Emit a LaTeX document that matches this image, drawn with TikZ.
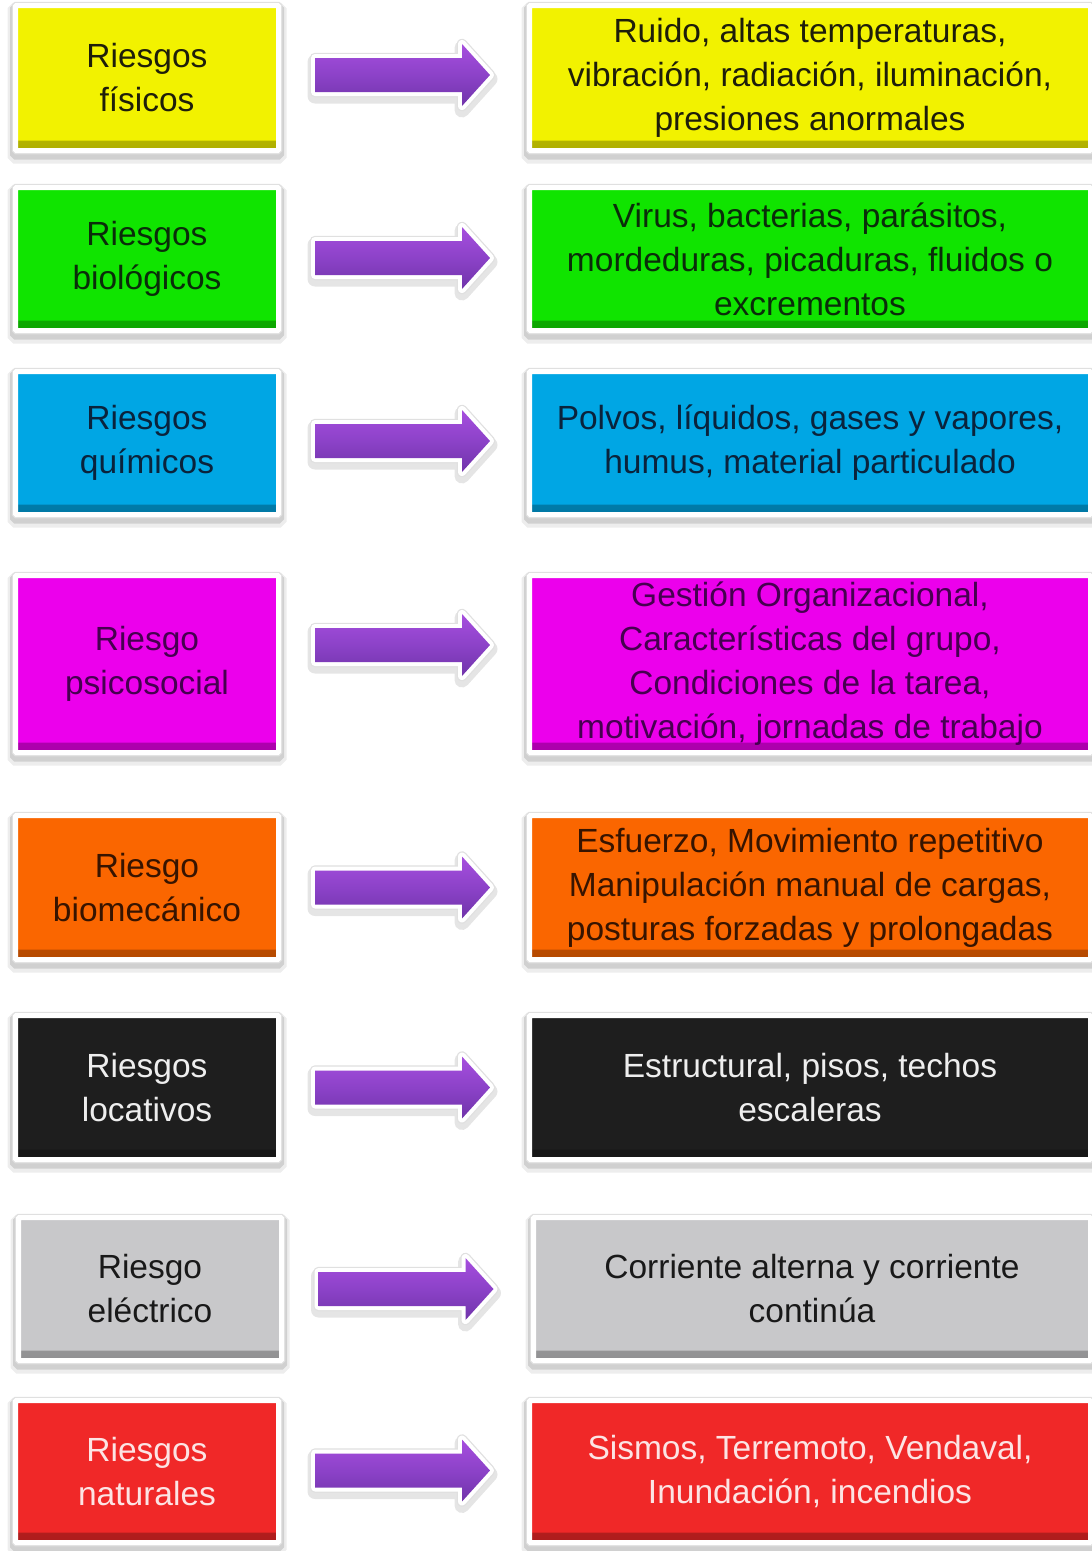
\documentclass[tikz,border=0pt]{standalone}
\usepackage{fontspec}
\setmainfont{Liberation Sans}
\usetikzlibrary{calc}
\definecolor{cYel}{RGB}{242,242,0}
\definecolor{cGrn}{RGB}{16,228,0}
\definecolor{cBlu}{RGB}{0,166,228}
\definecolor{cMag}{RGB}{236,0,236}
\definecolor{cOra}{RGB}{250,102,0}
\definecolor{cBlk}{RGB}{30,30,30}
\definecolor{cGry}{RGB}{200,200,202}
\definecolor{cRed}{RGB}{240,40,40}
\definecolor{tYel}{RGB}{30,30,10}
\definecolor{tGrn}{RGB}{10,45,10}
\definecolor{tBlu}{RGB}{10,35,60}
\definecolor{tMag}{RGB}{70,0,80}
\definecolor{tOra}{RGB}{55,20,0}
\definecolor{tBlk}{RGB}{238,238,238}
\definecolor{tGry}{RGB}{25,25,25}
\definecolor{tRed}{RGB}{252,228,228}
\definecolor{aTop}{RGB}{166,78,222}
\definecolor{aMid}{RGB}{140,66,200}
\definecolor{aBot}{RGB}{112,52,170}
\newcommand\boxfont{\fontsize{33.5}{44}\selectfont}
\tikzset{
  riskbox/.style 2 args={fill=#1, text=#2, draw=white, line width=5pt,
    rounded corners=1pt, align=center, inner sep=0pt, font=\boxfont,
    preaction={draw=black, draw opacity=.07, line width=16pt, transform canvas={yshift=-5pt}},
    preaction={draw=black, draw opacity=.12, line width=11pt, transform canvas={yshift=-3.5pt}},
    preaction={draw=black!12, line width=7.5pt},
    path picture={\shade[top color=#1, bottom color=#1!72!black]
      ([yshift=2.5pt]path picture bounding box.south west) rectangle
      ([yshift=10pt]path picture bounding box.south east);}},
  leftbox/.style={minimum width=263pt},
  rightbox/.style={minimum width=561pt},
  parrow/.pic={
    \draw[black, draw opacity=.10, line width=15pt, line join=round, transform canvas={yshift=-4pt}]
      (-87.5,-17) -- (59.5,-17) -- (59.5,-31) -- (87.5,0) -- (59.5,31)
      -- (59.5,17) -- (-87.5,17) -- cycle;
    \draw[black!12, line width=10.5pt, line join=round]
      (-87.5,-17) -- (59.5,-17) -- (59.5,-31) -- (87.5,0) -- (59.5,31)
      -- (59.5,17) -- (-87.5,17) -- cycle;
    \draw[white, line width=8pt, line join=round, fill=white]
      (-87.5,-17) -- (59.5,-17) -- (59.5,-31) -- (87.5,0) -- (59.5,31)
      -- (59.5,17) -- (-87.5,17) -- cycle;
    \shade[top color=aTop, bottom color=aBot, middle color=aMid]
      (-87.5,-17) -- (59.5,-17) -- (59.5,-31) -- (87.5,0) -- (59.5,31)
      -- (59.5,17) -- (-87.5,17) -- cycle;
  }
}
\begin{document}
\begin{tikzpicture}[x=1pt, y=-1pt]
\path[fill=white, use as bounding box] (0,0) rectangle (1092,1551);

% row 1
\node[riskbox={cYel}{tYel}, leftbox, minimum height=145pt] (L1) at (147,78) {Riesgos\\físicos};
\node[riskbox={cYel}{tYel}, rightbox, minimum height=145pt] (R1) at (810,78)
  {Ruido, altas temperaturas,\\vibración, radiación, iluminación,\\presiones anormales};
% row 2
\node[riskbox={cGrn}{tGrn}, leftbox, minimum height=143pt] (L2) at (147,259) {Riesgos\\biológicos};
\node[riskbox={cGrn}{tGrn}, rightbox, minimum height=143pt] (R2) at (810,259)
  {Virus, bacterias, parásitos,\\mordeduras, picaduras, fluidos o\\excrementos};
% row 3
\node[riskbox={cBlu}{tBlu}, leftbox, minimum height=143pt] (L3) at (147,443) {Riesgos\\químicos};
\node[riskbox={cBlu}{tBlu}, rightbox, minimum height=143pt] (R3) at (810,443)
  {Polvos, líquidos, gases y vapores,\\humus, material particulado};
% row 4
\node[riskbox={cMag}{tMag}, leftbox, minimum height=177pt] (L4) at (147,664) {Riesgo\\psicosocial};
\node[riskbox={cMag}{tMag}, rightbox, minimum height=177pt] (R4) at (810,664)
  {Gestión Organizacional,\\Características del grupo,\\Condiciones de la tarea,\\motivación, jornadas de trabajo};
% row 5
\node[riskbox={cOra}{tOra}, leftbox, minimum height=144pt] (L5) at (147,887.5) {Riesgo\\biomecánico};
\node[riskbox={cOra}{tOra}, rightbox, minimum height=144pt] (R5) at (810,887.5)
  {Esfuerzo, Movimiento repetitivo\\Manipulación manual de cargas,\\posturas forzadas y prolongadas};
% row 6
\node[riskbox={cBlk}{tBlk}, leftbox, minimum height=144pt] (L6) at (147,1087.5) {Riesgos\\locativos};
\node[riskbox={cBlk}{tBlk}, rightbox, minimum height=144pt] (R6) at (810,1087.5)
  {Estructural, pisos, techos\\escaleras};
% row 7
\node[riskbox={cGry}{tGry}, leftbox, minimum height=143pt] (L7) at (150,1289) {Riesgo\\eléctrico};
\node[riskbox={cGry}{tGry}, minimum width=557pt, minimum height=143pt] (R7) at (812,1289)
  {Corriente alterna y corriente\\continúa};
% row 8
\node[riskbox={cRed}{tRed}, leftbox, minimum height=142pt] (L8) at (147,1471.5) {Riesgos\\naturales};
\node[riskbox={cRed}{tRed}, rightbox, minimum height=142pt] (R8) at (810,1471.5)
  {Sismos, Terremoto, Vendaval,\\Inundación, incendios};

% arrows between the boxes
\path (L1.east) -- coordinate[pos=.5] (m1) (R1.west);
\path (L2.east) -- coordinate[pos=.5] (m2) (R2.west);
\path (L3.east) -- coordinate[pos=.5] (m3) (R3.west);
\path (L4.east) -- coordinate[pos=.5] (m4) (R4.west);
\path (L5.east) -- coordinate[pos=.5] (m5) (R5.west);
\path (L6.east) -- coordinate[pos=.5] (m6) (R6.west);
\path (L7.east) -- coordinate[pos=.5] (m7) (R7.west);
\path (L8.east) -- coordinate[pos=.5] (m8) (R8.west);
\pic at ($(m1)+(-1.5,-3)$) {parrow};
\pic at ($(m2)+(-1.5,-1)$) {parrow};
\pic at ($(m3)+(-1.5,-2)$) {parrow};
\pic at ($(m4)+(-1.5,-19)$) {parrow};
\pic at ($(m5)+(-1.5,0)$) {parrow};
\pic at ($(m6)+(-1.5,0)$) {parrow};
\pic at ($(m7)+(-1.5,0)$) {parrow};
\pic at ($(m8)+(-1.5,-1)$) {parrow};
\end{tikzpicture}
\end{document}
